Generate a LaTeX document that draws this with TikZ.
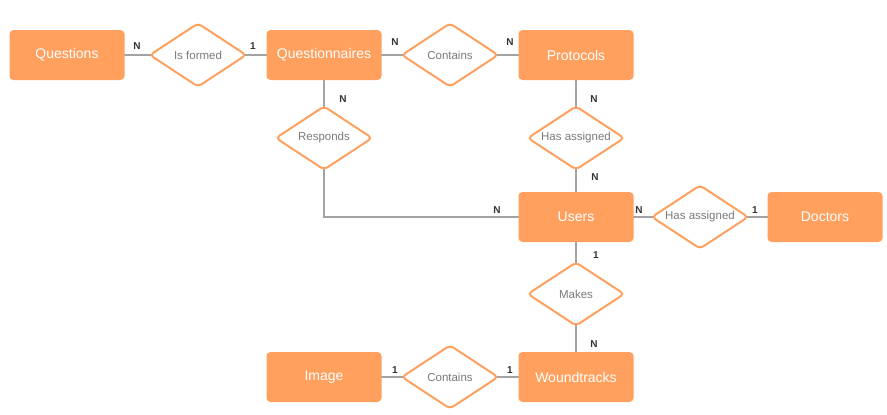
\documentclass[tikz,border=0pt]{standalone}
\usepackage{fontspec}
\setmainfont{Liberation Sans}
\usetikzlibrary{shapes.geometric}
\definecolor{boxor}{HTML}{FFA05E}
\definecolor{linegray}{HTML}{A3A3A3}
\definecolor{reltext}{HTML}{7A7A7A}
\definecolor{cardtext}{HTML}{333333}
\pgfdeclarelayer{background}
\pgfsetlayers{background,main}
\tikzset{
  entity/.style={draw=none, fill=boxor, rounded corners=4pt, minimum width=115pt, minimum height=50pt, inner sep=0pt, text=white, font=\fontsize{14}{16}\selectfont},
  relation/.style={shape=diamond, aspect=1.55, draw=boxor, line width=2pt, fill=white, rounded corners=4pt, minimum width=97pt, minimum height=64pt, inner sep=0pt, text=reltext, font=\fontsize{11.5}{13}\selectfont},
  conn/.style={draw=linegray, line width=1.4pt},
  card/.style={text=cardtext, font=\fontsize{10}{12}\selectfont\bfseries, inner sep=0pt}
}
\begin{document}
\begin{tikzpicture}[x=1pt,y=-1pt]
\useasboundingbox (0,0) rectangle (887,415);
\node[entity] (questions) at (67,55) {Questions};
\node[relation] (isformed) at (198,55) {Is formed};
\node[entity] (questionnaires) at (324,55) {Questionnaires};
\node[relation] (contains1) at (450,55) {Contains};
\node[entity] (protocols) at (576,55) {Protocols};
\node[relation] (responds) at (324,138) {Responds};
\node[relation] (hasassigned1) at (576,138) {Has assigned};
\node[entity] (users) at (576,217) {Users};
\node[relation] (hasassigned2) at (700,217) {Has assigned};
\node[entity] (doctors) at (825,217) {Doctors};
\node[relation] (makes) at (576,294) {Makes};
\node[entity] (woundtracks) at (576,377) {Woundtracks};
\node[entity] (image) at (324,377) {Image};
\node[relation] (contains2) at (450,377) {Contains};

\coordinate (corner) at (responds.center |- users.center);

\begin{pgfonlayer}{background}
\draw[conn] (questions.center) -- (isformed.center);
\draw[conn] (isformed.center) -- (questionnaires.center);
\draw[conn] (questionnaires.center) -- (contains1.center);
\draw[conn] (contains1.center) -- (protocols.center);
\draw[conn] (questionnaires.center) -- (responds.center);
\draw[conn] (protocols.center) -- (hasassigned1.center);
\draw[conn] (hasassigned1.center) -- (users.center);
\draw[conn] (responds.center) -- (corner) -- (users.center);
\draw[conn] (users.center) -- (hasassigned2.center);
\draw[conn] (hasassigned2.center) -- (doctors.center);
\draw[conn] (users.center) -- (makes.center);
\draw[conn] (makes.center) -- (woundtracks.center);
\draw[conn] (image.center) -- (contains2.center);
\draw[conn] (contains2.center) -- (woundtracks.center);
\end{pgfonlayer}

\node[card] (c1) at (137,46) {N};
\node[card] (c2) at (253,46) {1};
\node[card] (c3) at (395,42) {N};
\node[card] (c4) at (510,42) {N};
\node[card] (c5) at (343,99) {N};
\node[card] (c6) at (594,99) {N};
\node[card] (c7) at (595,177) {N};
\node[card] (c8) at (497,210) {N};
\node[card] (c9) at (639,210) {N};
\node[card] (c10) at (755,210) {1};
\node[card] (c11) at (596,255) {1};
\node[card] (c12) at (594,344) {N};
\node[card] (c13) at (395,370) {1};
\node[card] (c14) at (510,370) {1};
\end{tikzpicture}
\end{document}
